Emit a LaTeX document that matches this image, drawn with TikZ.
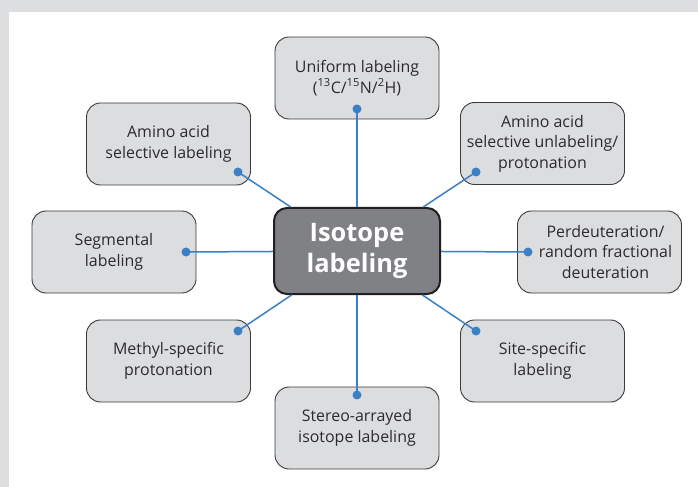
\documentclass[tikz,border=0pt]{standalone}
\usepackage{fontspec}
\setmainfont{Open Sans}
\definecolor{bggray}{HTML}{DDDEE0}
\definecolor{boxfill}{HTML}{DCDDDF}
\definecolor{boxline}{HTML}{3A3A3C}
\definecolor{textc}{HTML}{2B2B2D}
\definecolor{hubfill}{HTML}{808184}
\definecolor{hubline}{HTML}{231F20}
\definecolor{linkblue}{HTML}{3B7FC4}
\begin{document}
\begin{tikzpicture}[x=1bp,y=-1bp,
  leaf/.style={draw=boxline, fill=boxfill, rounded corners=14bp, minimum width=164bp,
    minimum height=82bp, align=center, inner sep=0pt, text=textc, line width=0.9bp,
    font=\fontsize{16}{20.5}\selectfont},
  hub/.style={draw=hubline, fill=hubfill, rounded corners=13bp, minimum width=166bp,
    minimum height=86bp, align=center, inner sep=0pt, text=white, line width=2bp,
    font=\fontsize{25.5}{31}\selectfont\bfseries},
  link/.style={draw=linkblue, line width=1.5bp},
  bdot/.style={circle, fill=linkblue, inner sep=0pt, minimum size=9bp}]
\useasboundingbox (0,0) rectangle (698,487);
\fill[bggray] (0,0) rectangle (698,487);
\fill[white] (9,12) rectangle (698,487);

\node[leaf] (uni) at (357,78) {Uniform labeling\\(\textsuperscript{13}C/\textsuperscript{15}N/\textsuperscript{2}H)};
\node[leaf] (aal) at (168.5,144) {Amino acid\\selective labeling};
\node[leaf] (aau) at (542.5,143.5) {Amino acid\\selective unlabeling/\\protonation};
\node[leaf] (seg) at (114,252) {Segmental\\labeling};
\node[leaf] (per) at (599.5,252) {\hspace*{12bp}Perdeuteration/\\\hspace*{12bp}random fractional\\\hspace*{12bp}deuteration};
\node[leaf] (met) at (168.5,361) {Methyl-specific\\protonation};
\node[leaf] (sit) at (542.5,361) {Site-specific\\labeling};
\node[leaf] (ste) at (357,428) {Stereo-arrayed\\isotope labeling};

\node[hub] (hub) at (357,251) {Isotope\\labeling};

\coordinate (duni) at (357,109);
\coordinate (daal) at (238,172);
\coordinate (daau) at (476,172);
\coordinate (dseg) at (186,252);
\coordinate (dper) at (528,252);
\coordinate (dmet) at (238,331);
\coordinate (dsit) at (476,331);
\coordinate (dste) at (357,395);

\foreach \d in {duni,daal,daau,dseg,dper,dmet,dsit,dste}{
  \draw[link] (\d) -- (hub);
  \node[bdot] at (\d) {};
}
\end{tikzpicture}
\end{document}
